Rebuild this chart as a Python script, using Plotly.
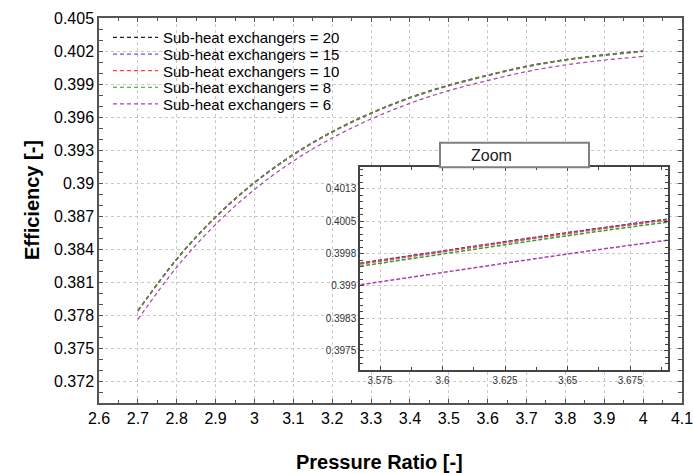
import plotly.graph_objects as go

# ---------------- data ----------------
pressure_ratio = [2.7, 2.8, 2.9, 3.0, 3.1, 3.2, 3.3, 3.4, 3.5, 3.6, 3.7, 3.8, 3.9, 4.0]

eff_20 = [0.37840, 0.38310, 0.38693, 0.39006, 0.39260, 0.39467, 0.39637,
          0.39777, 0.39890, 0.39981, 0.40062, 0.40122, 0.40166, 0.40200]
eff_15 = [0.37839, 0.38309, 0.38692, 0.39005, 0.39259, 0.39466, 0.39636,
          0.39776, 0.39889, 0.39980, 0.40061, 0.40121, 0.40165, 0.40199]
eff_10 = [0.37838, 0.38308, 0.38691, 0.39004, 0.39258, 0.39465, 0.39635,
          0.39775, 0.39888, 0.39979, 0.40060, 0.40120, 0.40164, 0.40198]
eff_8 = [0.37833, 0.38303, 0.38686, 0.38999, 0.39253, 0.39460, 0.39630,
         0.39770, 0.39883, 0.39974, 0.40055, 0.40115, 0.40159, 0.40193]
eff_6 = [0.37760, 0.38235, 0.38623, 0.38941, 0.39200, 0.39409, 0.39582,
         0.39724, 0.39840, 0.39931, 0.40013, 0.40073, 0.40117, 0.40150]

series_names = ["Sub-heat exchangers = 20", "Sub-heat exchangers = 15",
                "Sub-heat exchangers = 10", "Sub-heat exchangers = 8",
                "Sub-heat exchangers = 6"]
series_values = [eff_20, eff_15, eff_10, eff_8, eff_6]
series_colors = ["#222222", "#5a5aff", "#ff4040", "#2ea02e", "#b03cb0"]

x_tick_vals = [2.6, 2.7, 2.8, 2.9, 3.0, 3.1, 3.2, 3.3, 3.4, 3.5, 3.6, 3.7, 3.8, 3.9, 4.0, 4.1]
x_tick_text = ["2.6", "2.7", "2.8", "2.9", "3", "3.1", "3.2", "3.3", "3.4", "3.5",
               "3.6", "3.7", "3.8", "3.9", "4", "4.1"]
y_tick_vals = [0.372, 0.375, 0.378, 0.381, 0.384, 0.387, 0.390, 0.393, 0.396,
               0.399, 0.402, 0.405]
y_tick_text = ["0.372", "0.375", "0.378", "0.381", "0.384", "0.387", "0.39",
               "0.393", "0.396", "0.399", "0.402", "0.405"]

inset_x_vals = [3.575, 3.6, 3.625, 3.65, 3.675]
inset_x_text = ["3.575", "3.6", "3.625", "3.65", "3.675"]
inset_y_vals = [0.3975, 0.39825, 0.399, 0.39975, 0.4005, 0.40125]
inset_y_text = ["0.3975", "0.3983", "0.399", "0.3998", "0.4005", "0.4013"]

# ---------------- figure ----------------
FONT = "Liberation Sans, Arial, sans-serif"
W, H = 693, 473
ML, MR, MT, MB = 99, 11, 18, 70
PW, PH = W - ML - MR, H - MT - MB


def px_x(p):
    return (p - ML) / PW


def px_y(p):
    return (H - MB - p) / PH


fig = go.Figure()

legend_names = ["legend", "legend2", "legend3", "legend4", "legend5"]
for i, (name, vals, col) in enumerate(zip(series_names, series_values, series_colors)):
    fig.add_trace(go.Scatter(
        x=pressure_ratio, y=vals, mode="lines", name=name,
        line=dict(color=col, width=1.2, dash="4px,3px", shape="spline"),
        legend=legend_names[i], xaxis="x", yaxis="y"))
for i, (name, vals, col) in enumerate(zip(series_names, series_values, series_colors)):
    fig.add_trace(go.Scatter(
        x=pressure_ratio, y=vals, mode="lines", name=name, showlegend=False,
        line=dict(color=col, width=1.5, dash="4px,2px", shape="spline"),
        xaxis="x2", yaxis="y2"))

grid_common = dict(showgrid=True, gridcolor="#c8c8c8", gridwidth=1, griddash="3px,3px",
                   zeroline=False, showline=True, mirror="allticks",
                   ticks="inside", automargin=False, ticklabeloverflow="allow")

layout_legends = {}
for i, ln in enumerate(legend_names):
    ypx = 37.7 + i * 16.6
    layout_legends[ln] = dict(
        x=px_x(108), y=px_y(ypx), xanchor="left", yanchor="middle",
        bgcolor="rgba(0,0,0,0)", borderwidth=0, itemwidth=45,
        font=dict(family=FONT, size=15, color="#000000"))

fig.update_layout(
    template="none",
    width=W, height=H,
    margin=dict(l=ML, r=MR, t=MT, b=MB, autoexpand=False),
    paper_bgcolor="white", plot_bgcolor="white",
    font=dict(family=FONT, color="#000000"),
    xaxis=dict(domain=[0, 1], range=[2.6, 4.1], tickmode="array",
               tickvals=x_tick_vals, ticktext=x_tick_text,
               tickfont=dict(size=16, color="#000"), linecolor="#555555", linewidth=1.5,
               ticklen=4, tickcolor="#555555",
               minor=dict(dtick=0.05, tick0=2.6, ticks="inside", ticklen=3,
                          tickcolor="#555555", showgrid=False),
               anchor="y", **grid_common),
    yaxis=dict(domain=[0, 1], range=[0.370, 0.405], tickmode="array",
               tickvals=y_tick_vals, ticktext=y_tick_text,
               tickfont=dict(size=16, color="#000"), linecolor="#555555", linewidth=1.5,
               ticklen=4, tickcolor="#555555",
               minor=dict(dtick=0.001, tick0=0.372, ticks="inside", ticklen=4,
                          tickcolor="#555555", showgrid=False),
               anchor="x", **grid_common),
    xaxis2=dict(domain=[px_x(360), px_x(667.7)], range=[3.567, 3.690],
                tickmode="array", tickvals=inset_x_vals, ticktext=inset_x_text,
                tickfont=dict(size=10, color="#333333"), linecolor="#444444",
                linewidth=1.5, ticklen=4, tickcolor="#444444",
                minor=dict(dtick=0.0125, tick0=3.575, ticks="inside", ticklen=3,
                           tickcolor="#444444", showgrid=False),
                anchor="y2", **grid_common),
    yaxis2=dict(domain=[px_y(370), px_y(167.3)], range=[0.39705, 0.40175],
                tickmode="array", tickvals=inset_y_vals, ticktext=inset_y_text,
                tickfont=dict(size=10, color="#333333"), linecolor="#444444",
                linewidth=1.5, ticklen=4, tickcolor="#444444",
                minor=dict(dtick=0.00015, tick0=0.3975, ticks="inside", ticklen=3,
                           tickcolor="#444444", showgrid=False),
                anchor="x2", **grid_common),
    **layout_legends,
)

# "Zoom" caption box above the inset
fig.add_shape(type="rect", xref="paper", yref="paper",
              x0=px_x(440), x1=px_x(589), y0=px_y(167.3), y1=px_y(142.7),
              line=dict(color="#808080", width=2), fillcolor="white", layer="above")
fig.add_annotation(text="Zoom", xref="paper", yref="paper",
                   x=px_x(514), y=px_y(155), showarrow=False,
                   font=dict(family=FONT, size=16, color="#222222"))

# axis titles
fig.add_annotation(text="<b>Pressure Ratio [-]</b>", xref="paper", yref="paper",
                   x=px_x(379), y=px_y(462), xanchor="center", yanchor="middle",
                   showarrow=False, font=dict(family=FONT, size=20, color="#000"))
fig.add_annotation(text="<b>Efficiency [-]</b>", xref="paper", yref="paper",
                   x=px_x(32), y=px_y(200), xanchor="center", yanchor="middle",
                   textangle=-90, showarrow=False,
                   font=dict(family=FONT, size=20, color="#000"))

fig.write_html(
    "out.html",
    config={"displayModeBar": False},
    post_script="document.body.style.margin='0';document.body.style.overflow='hidden';",
)
